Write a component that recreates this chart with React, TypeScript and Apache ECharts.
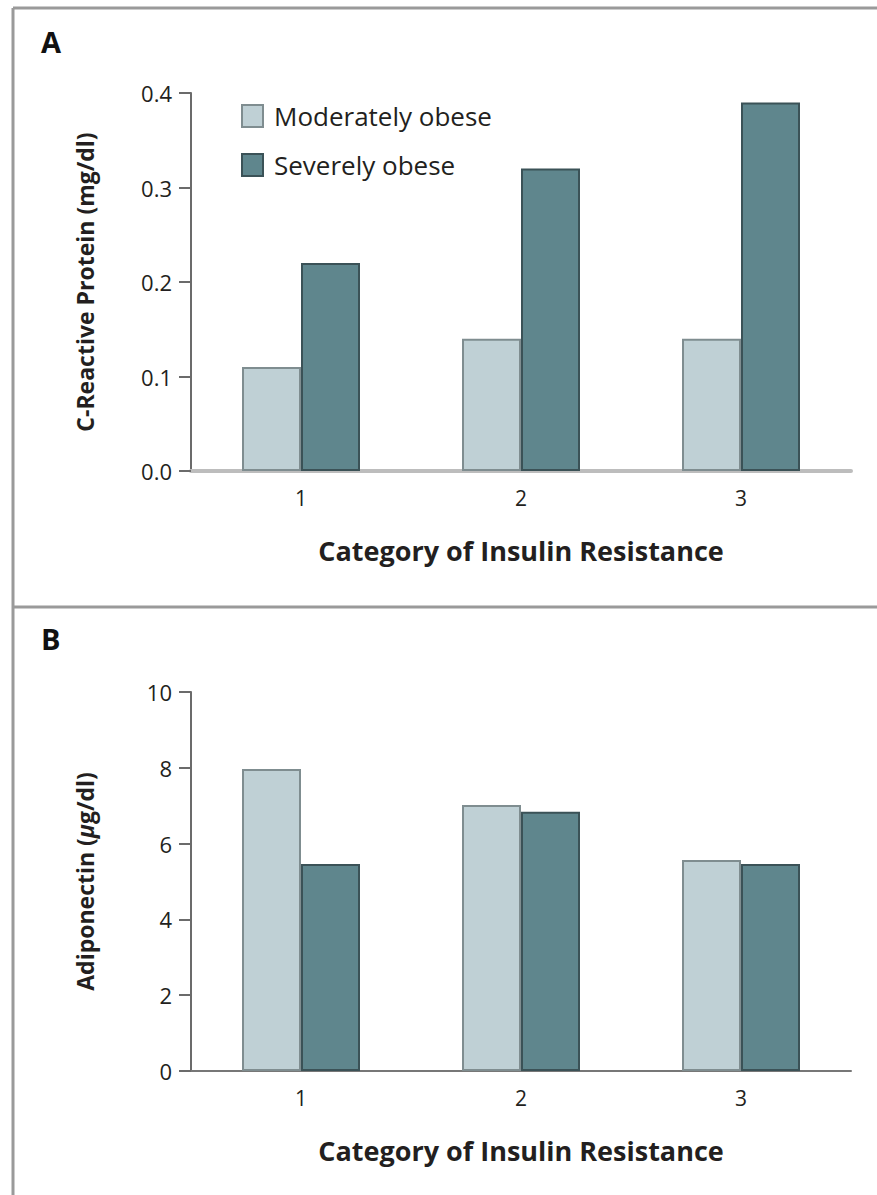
import React, { useEffect, useRef } from "react";
import * as echarts from "echarts";

const categories = ["1", "2", "3"];
const seriesNames = ["Moderately obese", "Severely obese"];
const crpModerate = [0.11, 0.14, 0.14];
const crpSevere = [0.22, 0.32, 0.39];
const adipoModerate = [7.97, 7.02, 5.57];
const adipoSevere = [5.46, 6.84, 5.46];

const LIGHT = "#bfd0d5";
const LIGHT_BORDER = "#7f8d90";
const DARK = "#5f868d";
const DARK_BORDER = "#3b5257";
const FONT = "Open Sans";
const TXT = "#231f20";

export default function App() {
  const ref = useRef<HTMLDivElement>(null);
  useEffect(() => {
    if (!ref.current) return;
    const chart = echarts.init(ref.current, null, { renderer: "svg" });
    const frame = { stroke: "#9a9a9a", lineWidth: 3 };
    const yAxisCommon = {
      type: "value",
      splitLine: { show: false },
      axisLine: { show: true, lineStyle: { color: "#6b6b6b", width: 2 } },
      axisTick: { show: true, inside: false, length: 12, lineStyle: { color: "#6b6b6b", width: 2 } },
      nameLocation: "middle",
      nameRotate: 90,
      nameGap: 95,
    };
    const xAxisCommon = {
      type: "category",
      data: categories,
      axisTick: { show: false },
      axisLabel: { fontFamily: FONT, fontSize: 21, color: TXT, margin: 16 },
      name: "Category of Insulin Resistance",
      nameLocation: "middle",
      nameGap: 66,
      nameTextStyle: { fontFamily: FONT, fontSize: 27, fontWeight: "bold", color: TXT },
    };
    const barStyle = (light: boolean) => ({
      color: light ? LIGHT : DARK,
      borderColor: light ? LIGHT_BORDER : DARK_BORDER,
      borderWidth: 2,
    });
    chart.setOption({
      animation: false,
      backgroundColor: "#ffffff",
      grid: [
        { left: 191, top: 93, width: 660, height: 378 },
        { left: 191, top: 692, width: 660, height: 379 },
      ],
      xAxis: [
        {
          ...xAxisCommon,
          gridIndex: 0,
          axisLine: { show: true, lineStyle: { color: "#bdbdbd", width: 4 } },
        },
        {
          ...xAxisCommon,
          gridIndex: 1,
          axisLine: { show: true, lineStyle: { color: "#777777", width: 2 } },
        },
      ],
      yAxis: [
        {
          ...yAxisCommon,
          gridIndex: 0,
          min: 0,
          max: 0.4,
          interval: 0.1,
          axisLabel: {
            fontFamily: FONT,
            fontSize: 22,
            color: TXT,
            margin: 19,
            formatter: (v: number) => v.toFixed(1),
          },
          name: "C-Reactive Protein (mg/dl)",
          nameTextStyle: { fontFamily: FONT, fontSize: 23, fontWeight: "bold", color: TXT },
        },
        {
          ...yAxisCommon,
          gridIndex: 1,
          min: 0,
          max: 10,
          interval: 2,
          axisLabel: { fontFamily: FONT, fontSize: 22, color: TXT, margin: 19 },
          name: "{a|Adiponectin (}{i|μ}{a|g/dl)}",
          nameTextStyle: {
            rich: {
              a: { fontFamily: FONT, fontSize: 23, fontWeight: "bold", color: TXT },
              i: { fontFamily: FONT, fontSize: 23, fontWeight: "bold", fontStyle: "italic", color: TXT },
            },
          },
        },
      ],
      legend: {
        data: seriesNames,
        orient: "vertical",
        left: 236,
        top: 98,
        itemWidth: 21,
        itemHeight: 22,
        itemGap: 23,
        icon: "rect",
        textStyle: { fontFamily: FONT, fontSize: 26, color: TXT, padding: [0, 0, 0, 6] },
      },
      series: [
        {
          name: seriesNames[0],
          type: "bar",
          xAxisIndex: 0,
          yAxisIndex: 0,
          data: crpModerate,
          barWidth: 59,
          barGap: "0%",
          itemStyle: barStyle(true),
        },
        {
          name: seriesNames[1],
          type: "bar",
          xAxisIndex: 0,
          yAxisIndex: 0,
          data: crpSevere,
          barWidth: 59,
          barGap: "0%",
          itemStyle: barStyle(false),
        },
        {
          name: seriesNames[0],
          type: "bar",
          xAxisIndex: 1,
          yAxisIndex: 1,
          data: adipoModerate,
          barWidth: 59,
          barGap: "0%",
          itemStyle: barStyle(true),
        },
        {
          name: seriesNames[1],
          type: "bar",
          xAxisIndex: 1,
          yAxisIndex: 1,
          data: adipoSevere,
          barWidth: 59,
          barGap: "0%",
          itemStyle: barStyle(false),
        },
      ],
      graphic: [
        { type: "line", shape: { x1: 13, y1: 8, x2: 13, y2: 1195 }, style: frame },
        { type: "line", shape: { x1: 13, y1: 8, x2: 877, y2: 8 }, style: frame },
        { type: "line", shape: { x1: 13, y1: 607, x2: 877, y2: 607 }, style: frame },
        {
          type: "text",
          left: 41,
          top: 27,
          style: { text: "A", fontFamily: FONT, fontSize: 29, fontWeight: "bold", fill: "#111" },
        },
        {
          type: "text",
          left: 41,
          top: 624,
          style: { text: "B", fontFamily: FONT, fontSize: 29, fontWeight: "bold", fill: "#111" },
        },
      ],
    });
    return () => chart.dispose();
  }, []);
  return (
    <div
      ref={ref}
      style={{ position: "absolute", left: 0, top: 0, width: 877, height: 1195 }}
    />
  );
}
